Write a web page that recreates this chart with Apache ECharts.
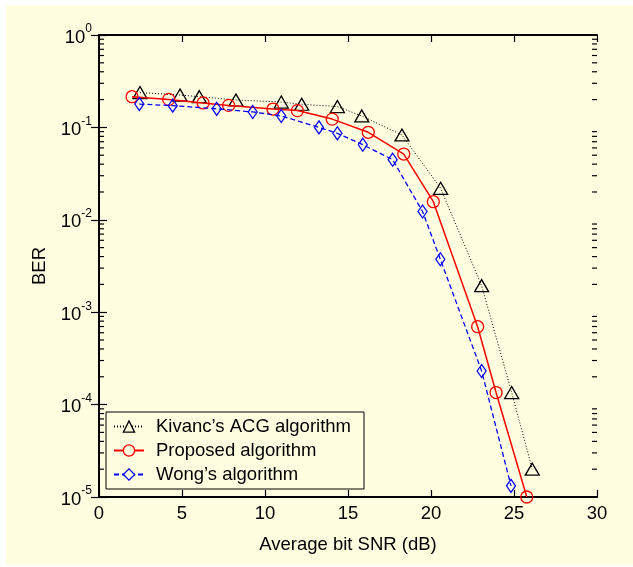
<!DOCTYPE html>
<html>
<head>
<meta charset="utf-8">
<script src="https://cdn.jsdelivr.net/npm/echarts@6/dist/echarts.min.js"></script>
<style>
  html, body { margin: 0; padding: 0; background: #ffffff; }
  #frame { position: absolute; left: 6px; top: 5px; width: 627px; height: 560px; background: #FFFEE1; }
  #chart { position: absolute; left: 0; top: 0; width: 633px; height: 567px; }
</style>
</head>
<body>
<div id="frame"></div>
<div id="chart"></div>
<script>
// Bit error rate versus average bit SNR for three detection algorithms
const seriesNames = ["Kivanc\u2019s ACG algorithm", "Proposed algorithm", "Wong\u2019s algorithm"];
const seriesColors = ['#000000', '#ff0000', '#0000ff'];

const kivancSnr = [2.47, 4.88, 6.04, 8.25, 10.98, 12.21, 14.36, 15.83, 18.25, 20.58, 23.05, 24.86, 26.1];
const kivancBer = [0.238, 0.224, 0.215, 0.198, 0.188, 0.178, 0.168, 0.133, 0.0828, 0.0219, 0.00194, 1.35e-4, 2.0e-5];

const proposedSnr = [1.99, 4.2, 6.27, 7.81, 10.48, 11.95, 14.05, 16.22, 18.36, 20.14, 22.81, 23.92, 25.77];
const proposedBer = [0.215, 0.201, 0.184, 0.173, 0.158, 0.152, 0.123, 0.0885, 0.0515, 0.0157, 6.97e-4, 1.35e-4, 1.0e-5];

const wongSnr = [2.43, 4.44, 7.09, 9.26, 10.98, 13.25, 14.36, 15.89, 17.69, 19.49, 20.56, 23.05, 24.82];
const wongBer = [0.179, 0.172, 0.159, 0.147, 0.133, 0.100, 0.0863, 0.065, 0.0447, 0.0123, 0.00374, 2.31e-4, 1.32e-5];

// Axis ranges and log-axis minor tick positions (2..9 within each decade)
const xTicks = [0, 5, 10, 15, 20, 25, 30];
const decades = [1e-5, 1e-4, 1e-3, 1e-2, 1e-1];
const minorMultipliers = [2, 3, 4, 5, 6, 7, 8, 9];

const minorValues = [];
decades.forEach(d => minorMultipliers.forEach(m => minorValues.push(m * d)));

const zip = (xs, ys) => xs.map((x, i) => [x, ys[i]]);

const font = "Liberation Sans, Arial, sans-serif";
const bg = '#FFFEE1';
const textSize = 18.5;
const axisLine = { show: true, lineStyle: { color: '#000', width: 2 } };

const chart = echarts.init(document.getElementById('chart'), null, { renderer: 'canvas' });

// one short inward tick per minor value, on a given frame edge
const minorTickSeries = (edgeX, dir) => ({
  type: 'custom', xAxisIndex: 0, yAxisIndex: 0,
  silent: true, clip: false, z: 10,
  data: minorValues.map(v => [edgeX, v]),
  encode: { x: 0, y: 1 },
  renderItem: (params, api) => {
    const p = api.coord([api.value(0), api.value(1)]);
    return {
      type: 'line',
      shape: { x1: p[0], y1: p[1], x2: p[0] + dir * 5, y2: p[1] },
      style: { stroke: '#000', lineWidth: 1.2 }
    };
  }
});

chart.setOption({
  backgroundColor: 'transparent',
  animation: false,
  textStyle: { fontFamily: font },
  grid: { left: 99, right: 36, top: 35, bottom: 70, containLabel: false },
  legend: {
    data: seriesNames.map((n, i) => ({
      name: n,
      itemStyle: { color: bg, borderColor: seriesColors[i], borderWidth: 1.3 }
    })),
    orient: 'vertical',
    left: 106,
    top: 412,
    padding: [5, 13, 5, 7],
    itemGap: 5,
    itemWidth: 30,
    itemHeight: 14,
    borderColor: '#000',
    borderWidth: 1,
    backgroundColor: bg,
    textStyle: { fontFamily: font, fontSize: textSize, color: '#000', lineHeight: 18, padding: [0, 0, 0, 7] }
  },
  xAxis: [
    {
      type: 'value', min: xTicks[0], max: xTicks[xTicks.length - 1], interval: 5,
      position: 'bottom',
      name: 'Average bit SNR (dB)', nameLocation: 'middle', nameGap: 38,
      nameTextStyle: { fontFamily: font, fontSize: textSize, color: '#000' },
      axisLine: axisLine,
      axisTick: { show: true, inside: true, length: 7, lineStyle: { color: '#000', width: 1.2 } },
      axisLabel: { fontFamily: font, fontSize: textSize, color: '#000', margin: 7 },
      splitLine: { show: false }
    },
    {
      type: 'value', min: xTicks[0], max: xTicks[xTicks.length - 1], interval: 5,
      position: 'top',
      axisLine: axisLine,
      axisTick: { show: true, inside: true, length: 7, lineStyle: { color: '#000', width: 1.2 } },
      axisLabel: { show: false },
      splitLine: { show: false }
    }
  ],
  yAxis: [
    {
      type: 'log', logBase: 10, min: 1e-5, max: 1,
      position: 'left',
      name: 'BER', nameLocation: 'middle', nameGap: 50, nameRotate: 90,
      nameTextStyle: { fontFamily: font, fontSize: textSize, color: '#000' },
      axisLine: axisLine,
      axisTick: { show: true, inside: true, length: 8, lineStyle: { color: '#000', width: 1.2 } },
      axisLabel: {
        margin: 7,
        formatter: v => '{b|10}{s|' + Math.round(Math.log10(v)) + '}',
        rich: {
          b: { fontFamily: font, fontSize: textSize, color: '#000', lineHeight: 24, verticalAlign: 'bottom' },
          s: { fontFamily: font, fontSize: 12, color: '#000', lineHeight: 24, verticalAlign: 'top' }
        }
      },
      splitLine: { show: false }
    },
    {
      type: 'log', logBase: 10, min: 1e-5, max: 1,
      position: 'right',
      axisLine: axisLine,
      axisTick: { show: true, inside: true, length: 8, lineStyle: { color: '#000', width: 1.2 } },
      axisLabel: { show: false },
      splitLine: { show: false }
    }
  ],
  series: [
    {
      name: seriesNames[0], type: 'line', xAxisIndex: 0, yAxisIndex: 0,
      data: zip(kivancSnr, kivancBer),
      symbol: 'triangle', symbolSize: [14, 12],
      lineStyle: { color: seriesColors[0], width: 1, type: [1, 2] },
      itemStyle: { color: 'rgba(0,0,0,0)', borderColor: seriesColors[0], borderWidth: 1.3 },
      z: 3
    },
    {
      name: seriesNames[1], type: 'line', xAxisIndex: 0, yAxisIndex: 0,
      data: zip(proposedSnr, proposedBer),
      symbol: 'circle', symbolSize: 12,
      lineStyle: { color: seriesColors[1], width: 1.5, type: 'solid' },
      itemStyle: { color: 'rgba(0,0,0,0)', borderColor: seriesColors[1], borderWidth: 1.3 },
      z: 4
    },
    {
      name: seriesNames[2], type: 'line', xAxisIndex: 0, yAxisIndex: 0,
      data: zip(wongSnr, wongBer),
      symbol: 'diamond', symbolSize: [9, 13],
      lineStyle: { color: seriesColors[2], width: 1.3, type: [5, 3] },
      itemStyle: { color: 'rgba(0,0,0,0)', borderColor: seriesColors[2], borderWidth: 1.3 },
      z: 5
    },
    Object.assign({ name: 'minorTicksLeft' }, minorTickSeries(xTicks[0], 1)),
    Object.assign({ name: 'minorTicksRight' }, minorTickSeries(xTicks[xTicks.length - 1], -1))
  ]
});
</script>
</body>
</html>
